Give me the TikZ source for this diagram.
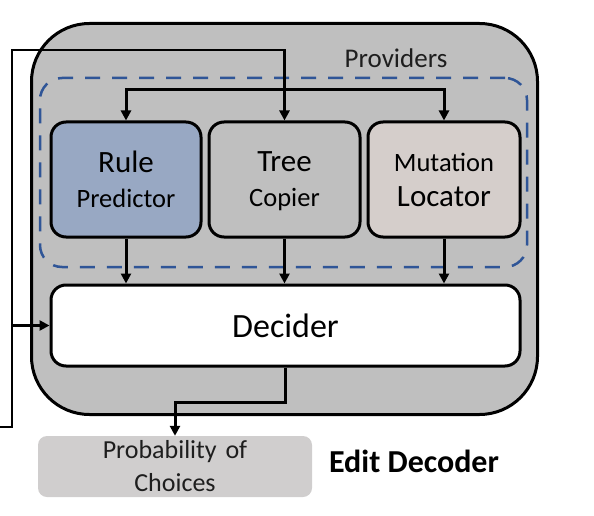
\documentclass[tikz,border=0pt]{standalone}
\usepackage{fontspec}
\setmainfont{Carlito}
\usetikzlibrary{arrows.meta}
\definecolor{outerfill}{HTML}{BFBFBF}
\definecolor{rulefill}{HTML}{98A8C3}
\definecolor{treefill}{HTML}{BFBFBF}
\definecolor{mutfill}{HTML}{D5CECB}
\definecolor{probfill}{HTML}{D0CECE}
\definecolor{dashblue}{HTML}{2F5597}
\definecolor{txtgray}{HTML}{1E1E1E}
\newcommand{\bigtxt}{\fontsize{31}{35}\selectfont}
\newcommand{\smalltxt}{\fontsize{26.5}{35}\selectfont}
\begin{document}
\begin{tikzpicture}[x=1pt,y=-1pt,
  outerbox/.style={draw=black,line width=3pt,fill=outerfill,rounded corners=58pt,inner sep=0pt},
  provbox/.style={draw=dashblue,line width=2.5pt,dash pattern=on 15pt off 12pt,rounded corners=22pt,inner sep=0pt},
  modbox/.style={draw=black,line width=3pt,rounded corners=15pt,inner sep=0pt,align=center,text=black,font=\fontsize{31}{35}\selectfont},
  probbox/.style={fill=probfill,rounded corners=9pt,inner sep=0pt,align=center,text=txtgray},
  arr/.style={line width=3pt,-{Triangle[length=10pt,width=10pt]}},
  extarr/.style={line width=2.5pt,-{Triangle[length=10pt,width=10pt]}}
]
\useasboundingbox (0,0) rectangle (594,516);
% outer container
\node[outerbox,minimum width=506pt,minimum height=391pt] (outer) at (284.5,219) {};
% providers group
\node[provbox,minimum width=487pt,minimum height=189pt] (prov) at (283.5,172.5) {};
\node[text=txtgray,font=\fontsize{27}{30}\selectfont,inner sep=0pt] (provlbl) at (396,58) {Providers};
% modules
\node[modbox,fill=rulefill,minimum width=150pt,minimum height=115pt] (rule) at (126,179.5) {{\bigtxt Rule}\\{\smalltxt Predictor}};
\node[modbox,fill=treefill,minimum width=151pt,minimum height=115pt] (tree) at (284.5,179.5) {{\bigtxt Tree}\\{\smalltxt Co\smash{p}ier}};
\node[modbox,fill=mutfill,minimum width=152pt,minimum height=115pt] (mut) at (444,179.5) {{\smalltxt Mutation}\\{\bigtxt Locator}};
\node[modbox,fill=white,minimum width=469pt,minimum height=81pt,font=\fontsize{34}{36}\selectfont] (decider) at (285.5,325.5) {Decider};
% output
\node[probbox,minimum width=274pt,minimum height=61pt,font=\fontsize{26}{33}\selectfont] (prob) at (175,466.5) {Probability\hspace{3pt} of\\Choices};
\node[font=\bfseries\fontsize{32}{34}\selectfont,inner sep=0pt] (title) at (414,461) {Edit Decoder};
% external feedback
\coordinate (e0) at (0,427);
\coordinate (etop) at (12,50);
\coordinate (ebr) at (12,325.5);
\draw[extarr] (e0) -| (etop) -| (tree.north);
\draw[extarr] (ebr) -- (decider.west);
% distribution to rule & mutation
\coordinate (junc) at (284.5,90);
\draw[arr] (junc) -| (rule.north);
\draw[arr] (junc) -| (mut.north);
% providers to decider
\draw[arr] (rule.south) -- (rule.south |- decider.north);
\draw[arr] (tree.south) -- (tree.south |- decider.north);
\draw[arr] (mut.south) -- (mut.south |- decider.north);
% decider to output
\coordinate (bend) at (0,402);
\draw[arr] (decider.south) -- (decider.south |- bend) -| (prob.north);
\end{tikzpicture}
\end{document}
